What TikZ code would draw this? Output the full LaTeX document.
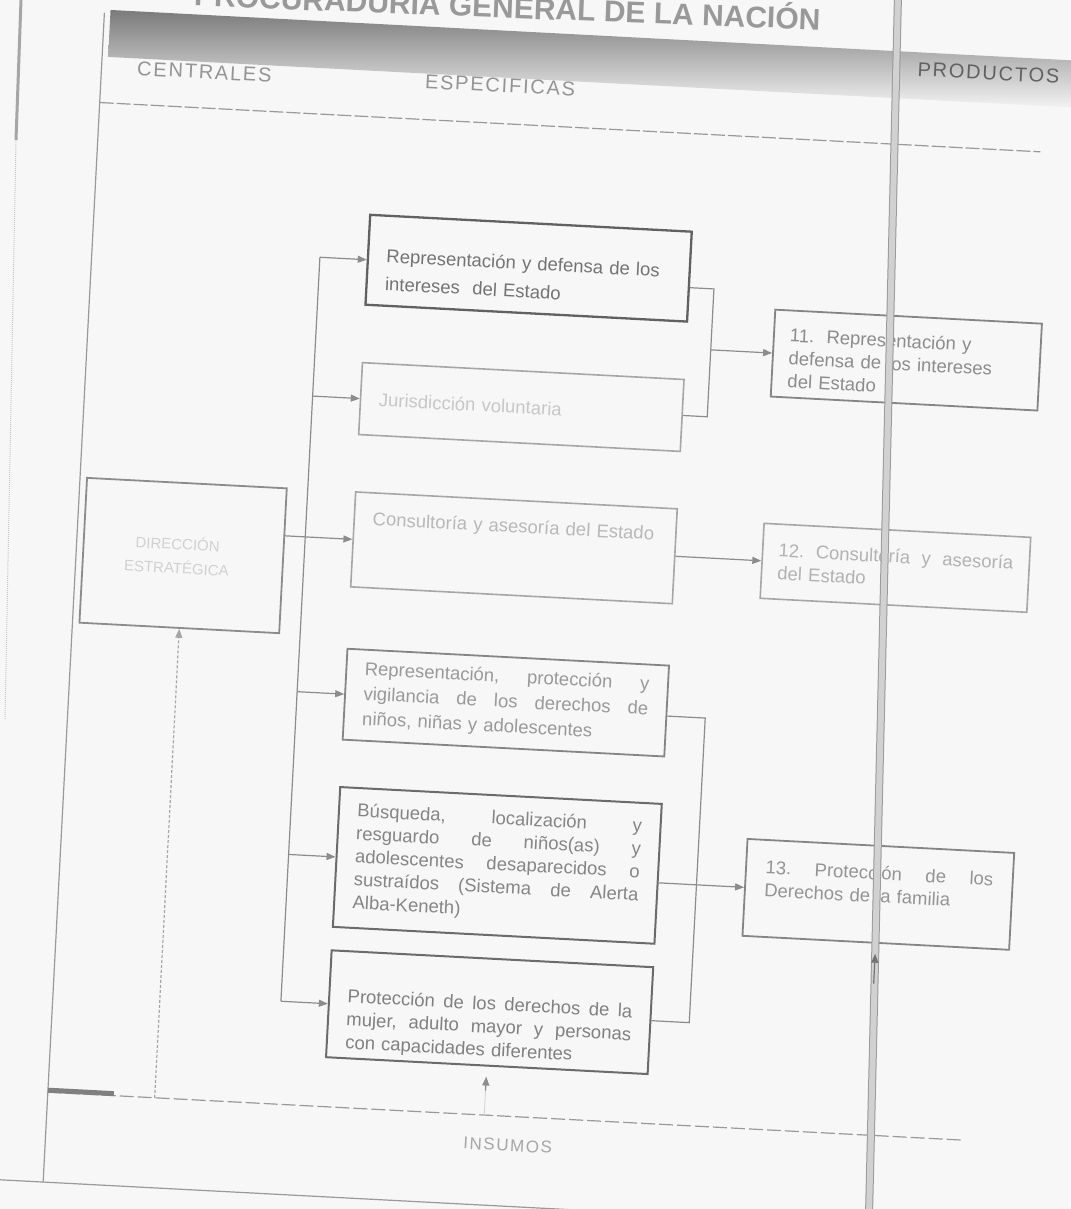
\documentclass[tikz,border=0pt]{standalone}
\usepackage{fontspec}
\setmainfont{Liberation Sans}
\newfontfamily\hdrfont[LetterSpace=9]{Liberation Sans}
\usetikzlibrary{arrows.meta,calc}
\definecolor{bg}{RGB}{247,247,247}
\newcommand{\jl}[2]{\leavevmode\hbox to #1{#2}}
\begin{document}
\begin{tikzpicture}[x=1pt,y=-1pt,
  box/.style={draw=black!45, line width=1.8pt, inner sep=0pt, fill=bg},
  txt/.style={inner sep=0pt, align=left, font=\fontsize{18.5}{23}\selectfont},
  conn/.style={draw=black!45, line width=1.2pt},
  arr/.style={conn, -{Triangle[length=9pt,width=7pt]}},
  hdr/.style={inner sep=0pt, text=black!42, font=\hdrfont\fontsize{20}{20}\selectfont},
]
\useasboundingbox (0,0) rectangle (1070,1209);
\fill[bg] (0,0) rectangle (1070,1209);
% page edge
\draw[black!35, line width=3pt] (21,0) -- (16,140);
\draw[black!22, line width=1pt, densely dotted] (16,140) -- (5,720);

\begin{scope}[rotate around={-3:(535,605)}, transform shape]
  % header band and frame
  \shade[top color=black!52, bottom color=bg] (80,33) rectangle (1120,80);
  \draw[black!40, line width=1.2pt] (74,36) -- (74,1207);
  \draw[black!40, line width=1.2pt, dash pattern=on 14pt off 3pt] (74,126) -- (1016,126);
  \draw[black!40, line width=1.2pt, dash pattern=on 14pt off 4pt] (74,1117) -- (990,1117);
  \draw[black!50, line width=5pt] (74,1115) -- (140,1115);
  \draw[black!40, line width=1.2pt] (-60,1207) -- (1120,1207);
  \node[hdr] (hc) at (177,90) {CENTRALES};
  \node[hdr] (he) at (473,88) {ESPECIFICAS};
  \node[hdr, text=black!62] (hp) at (960,50) {PRODUCTOS};
  \node[inner sep=0pt, text=black!35, font=\hdrfont\fontsize{17}{17}\selectfont] (ins) at (536,1146) {INSUMOS};

  % left box
  \node[box, draw=black!45, minimum width=200, minimum height=145] (L) at (181,574) {};
  \node[inner sep=0pt, align=center, text=black!18, font=\fontsize{15}{24}\selectfont] (Lt) at ($(L)+(-6,0)$) {DIRECCIÓN\\ESTRATÉGICA};

  % middle boxes
  \node[box, draw=black!62, line width=2.3pt, minimum width=322, minimum height=90] (B1) at (511,269) {};
  \node[txt, text width=285pt, text=black!55, font=\fontsize{18.5}{28}\selectfont] (B1t) at ($(B1)+(0,9)$) {Representación y defensa de los\\intereses\ \ del Estado};

  \node[box, draw=black!35, line width=1.6pt, minimum width=322, minimum height=72] (B2) at (511,408) {};
  \node[txt, text width=285pt, text=black!22] (B2t) at (B2) {Jurisdicción voluntaria};

  \node[box, draw=black!35, line width=1.6pt, minimum width=322, minimum height=95] (B3) at (511,549) {};
  \node[txt, text width=285pt, text=black!28] (B3t) at ($(B3)+(0,-20)$) {Consultoría y asesoría del Estado};

  \node[box, draw=black!48, minimum width=322, minimum height=91] (B4) at (511,704) {};
  \node[txt, text width=285pt, text=black!40, font=\fontsize{18.5}{25}\selectfont] (B4t) at (B4) {\jl{285pt}{Representación,\hfill protección\hfill y}\\\jl{285pt}{vigilancia\hfill de\hfill los\hfill derechos\hfill de}\\niños, niñas y adolescentes};

  \node[box, draw=black!58, line width=2pt, minimum width=322, minimum height=140] (B5) at (511,867) {};
  \node[txt, text width=285pt, text=black!48] (B5t) at (B5) {\jl{285pt}{Búsqueda,\hfill localización\hfill y}\\\jl{285pt}{resguardo\hfill de\hfill niños(as)\hfill y}\\\jl{285pt}{adolescentes\hfill desaparecidos\hfill o}\\\jl{285pt}{sustraídos\hfill (Sistema\hfill de\hfill Alerta}\\Alba-Keneth)};

  \node[box, draw=black!58, line width=2pt, minimum width=322, minimum height=107] (B6) at (511,1014) {};
  \node[txt, text width=285pt, text=black!50] (B6t) at ($(B6)+(0,16)$) {\jl{285pt}{Protección\hfill de\hfill los\hfill derechos\hfill de\hfill la}\\\jl{285pt}{mujer,\hfill adulto\hfill mayor\hfill y\hfill personas}\\con capacidades diferentes};

  % right boxes
  \node[box, draw=black!48, minimum width=267, minimum height=87] (R1) at (893,341) {};
  \node[txt, text width=235pt, text=black!45] (R1t) at ($(R1)+(0,4)$) {11.\ \ Representación y\\defensa de los intereses\\del Estado};

  \node[box, draw=black!35, line width=1.6pt, minimum width=267, minimum height=75] (R2) at (893,549) {};
  \node[txt, text width=235pt, text=black!30] (R2t) at (R2) {\jl{235pt}{12.\hfill Consultoría\hfill y\hfill asesoría}\\del Estado};

  \node[box, draw=black!48, minimum width=267, minimum height=97] (R3) at (893,876) {};
  \node[txt, text width=228pt, text=black!42] (R3t) at ($(R3)+(0,-10)$) {\jl{228pt}{13.\hfill Protección\hfill de\hfill los}\\Derechos de la familia};

  % trunk and branches
  \coordinate (trTop) at (302,269);
  \coordinate (trBot) at (302,1014);
  \draw[conn] (trTop) -- (trBot);
  \draw[arr] (B1.west -| trTop) -- (B1.west);
  \draw[arr] (B2.west -| trTop) -- (B2.west);
  \draw[arr] (L.east |- B3.west) -- (B3.west);
  \draw[arr] (B4.west -| trTop) -- (B4.west);
  \draw[arr] (B5.west -| trTop) -- (B5.west);
  \draw[arr] (B6.west -| trTop) -- (B6.west);

  % brackets to products
  \coordinate (k1) at ($(B1.east)+(24,0)$);
  \draw[conn] ($(B1.east)+(0,11)$) -| (k1 |- B2.east) -- (B2.east);
  \draw[arr] (k1 |- R1.west) -- (R1.west);
  \draw[arr] (B3.east) -- (R2.west);
  \coordinate (k2) at ($(B4.east)+(38,0)$);
  \draw[conn] ($(B4.east)+(0,5)$) -| (k2 |- B6.east) -- (B6.east);
  \draw[arr] (B5.east |- R3.west) -- (R3.west);

  % inputs from below
  \coordinate (inL) at (181,1117);
  \draw[arr, draw=black!35, densely dashed] (inL) -- (L.south);
  \coordinate (inB6) at (511,1117);
  \draw[black!18, line width=0.8pt] (inB6) -- ($(B6.south)+(0,22)$);
  \draw[arr, shorten >=10pt] ($(B6.south)+(0,24)$) -- (B6.south);
\end{scope}

% scanner divider line
\draw[draw=black!40, line width=1pt, double=black!18, double distance=6pt] (898,-5) -- (869,1215);

\begin{scope}[rotate around={-3:(535,605)}, transform shape]
  \coordinate (inR3) at ($(R3.south)+(0,40)$);
  \draw[arr, draw=black!55, shorten >=10pt] (inR3) -- (R3.south);
\end{scope}

% title (partly cut by the page edge)
\node[anchor=base, inner sep=0pt, text=black!40, rotate=-2.2, font=\bfseries\fontsize{30}{30}\selectfont] (title) at (507,18) {PROCURADURÍA GENERAL DE LA NACIÓN};
\end{tikzpicture}
\end{document}
